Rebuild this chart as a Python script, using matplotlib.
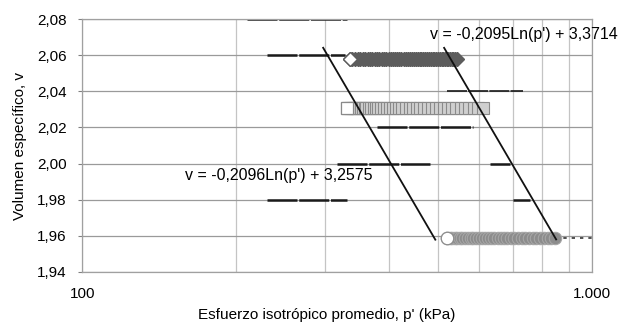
import numpy as np
import matplotlib
matplotlib.use("Agg")
import matplotlib.pyplot as plt
from matplotlib.ticker import FixedLocator, FuncFormatter, NullFormatter

plt.rcParams['font.family'] = ['Liberation Sans', 'DejaVu Sans']

# Consolidation paths (p' in kPa, specific volume v)
p_serie1 = [335, 339, 343, 347, 351, 355, 359, 363, 367, 371, 375, 379, 383, 387,
            391, 395, 399, 403, 407, 411, 415, 419, 423, 427, 431, 435, 439, 443,
            447, 451, 455, 459, 463, 467, 471, 475, 479, 483, 487, 491, 495, 499,
            503, 507, 511, 515, 519, 523, 527, 531, 535, 539, 543]
v_serie1 = 2.058

p_serie2 = [331, 334, 337, 340, 343, 346, 349, 352, 355, 358, 361, 365, 369, 373,
            377, 381, 386, 391, 396, 401, 407, 413, 419, 425, 432, 439, 446, 453,
            461, 469, 477, 485, 494, 503, 512, 522, 532, 542, 553, 564, 575, 587,
            599, 611]
v_serie2 = 2.031

p_serie3 = [520, 526, 532, 538, 544, 550, 557, 564, 571, 578, 585, 593, 601, 609,
            617, 626, 635, 644, 653, 663, 673, 683, 694, 705, 716, 728, 740, 752,
            765, 778, 791, 805, 819, 833, 846]
v_serie3 = 1.959
p_tail = [846, 1000]

# Trend lines v = a*Ln(p') + b
a_izq, b_izq = -0.2096, 3.2575
a_der, b_der = -0.2095, 3.3714
p_izq = [297, 493]
p_der = [513, 851]

# dark fragments along the grid lines: (v, p_start, p_end)
trazos = [(2.08, 211, 331), (2.06, 230, 328), (2.04, 520, 732),
          (2.02, 379, 584), (2.00, 316, 481), (2.00, 630, 690),
          (1.98, 230, 331), (1.98, 700, 755)]

y_ticks = [1.94, 1.96, 1.98, 2.00, 2.02, 2.04, 2.06, 2.08]
x_ticks = [100, 1000]
x_labels = ['100', '1.000']

fig = plt.figure(figsize=(6.23, 3.23), dpi=100)
ax = fig.add_axes([0.132, 0.158, 0.818, 0.783])
ax.set_xscale('log')
ax.set_xlim(100, 1000)
ax.set_ylim(1.94, 2.08)

# grid
ax.grid(True, which='major', axis='y', color='#9a9a9a', lw=0.9)
ax.grid(True, which='both', axis='x', color='#c4c4c4', lw=0.9)
for s in ax.spines.values():
    s.set_color('#a0a0a0')
    s.set_linewidth(0.9)

for v, p0, p1 in trazos:
    lw = 1.2 if v == 2.04 else 1.8
    ax.plot([p0, p1], [v, v], color='#1a1a1a', lw=lw,
            dashes=(12, 0.7), solid_capstyle='butt', zorder=2)

# series
ax.plot(p_serie1, [v_serie1] * len(p_serie1), ls='none', marker='D', ms=7,
        mfc='#5c5c5c', mec='#5c5c5c', zorder=3)
ax.plot(p_serie1[:1], [v_serie1], ls='none', marker='D', ms=7,
        mfc='white', mec='#5c5c5c', zorder=4)

ax.plot(p_serie2, [v_serie2] * len(p_serie2), ls='none', marker='s', ms=8.5,
        mfc='#cfcfcf', mec='#8a8a8a', mew=0.8, zorder=3)
ax.plot(p_serie2[:1], [v_serie2], ls='none', marker='s', ms=8.5,
        mfc='white', mec='#8a8a8a', mew=0.9, zorder=4)

ax.plot(p_tail, [v_serie3] * 2, color='#333333', lw=1.2, ls=(0, (2, 3)), zorder=2)
ax.plot(p_serie3, [v_serie3] * len(p_serie3), ls='none', marker='o', ms=9,
        mfc='#8c8c8c', mec='#a8a8a8', mew=0.7, zorder=3)
ax.plot(p_serie3[:1], [v_serie3], ls='none', marker='o', ms=9,
        mfc='white', mec='#8c8c8c', mew=0.9, zorder=4)

# trend lines
for a, b, pr in [(a_izq, b_izq, p_izq), (a_der, b_der, p_der)]:
    pr = np.array(pr, dtype=float)
    ax.plot(pr, a * np.log(pr) + b, color='#111111', lw=1.3, zorder=5)

ax.text(481, 2.0717, "v = -0,2095Ln(p') + 3,3714", fontsize=11.5, va='center',
        ha='left', zorder=6)
ax.text(159, 1.9933, "v = -0,2096Ln(p') + 3,2575", fontsize=11.5, va='center',
        ha='left', zorder=6)

# ticks
ax.xaxis.set_major_locator(FixedLocator(x_ticks))
ax.xaxis.set_major_formatter(FuncFormatter(lambda x, pos: x_labels[x_ticks.index(int(round(x)))]))
ax.xaxis.set_minor_formatter(NullFormatter())
ax.tick_params(axis='x', which='both', length=0, pad=11, labelsize=11)
ax.set_yticks(y_ticks)
ax.yaxis.set_major_formatter(FuncFormatter(lambda y, pos: f"{y:.2f}".replace('.', ',')))
ax.tick_params(axis='y', length=3, color='#808080', pad=8, labelsize=11)

ax.set_xlabel("Esfuerzo isotrópico promedio, p' (kPa)", fontsize=11)
ax.xaxis.set_label_coords(0.48, -0.142)
ax.set_ylabel("Volumen específico, v", fontsize=11)
ax.yaxis.set_label_coords(-0.108, 0.5)

fig.savefig('out.png', dpi=100)
